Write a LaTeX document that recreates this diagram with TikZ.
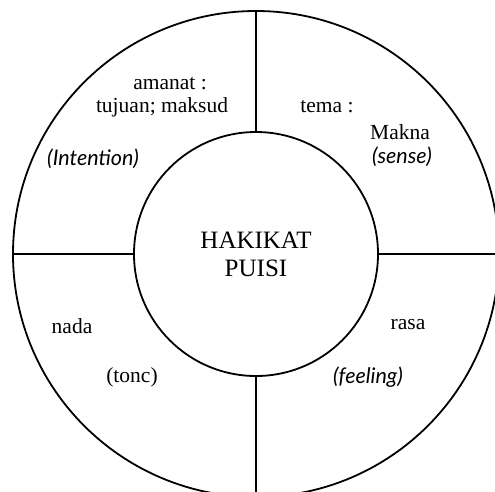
\documentclass[tikz,border=0pt]{standalone}
\usepackage{fontspec}
\setmainfont{Liberation Serif}
\newfontfamily\hsans{Lato}
\begin{document}
\begin{tikzpicture}[x=1pt,y=1pt,
  ring/.style={draw=black,line width=1.8pt,circle,inner sep=0pt},
  lbl/.style={inner sep=0pt,font=\fontsize{21.5}{24}\selectfont},
  eng/.style={inner sep=0pt,font=\hsans\itshape\fontsize{21.5}{24}\selectfont},
  sep/.style={line width=1.8pt}]
\useasboundingbox (0,0) rectangle (495,-491);
\clip (0,0) rectangle (495,-491);
\fill[white] (0,0) rectangle (495,-491);
\node[ring,minimum size=486pt] (outer) at (256,-254) {};
\node[ring,minimum size=244pt,align=center,font=\fontsize{25}{28}\selectfont] (inner) at (256,-254) {HAKIKAT\\PUISI};
\draw[sep] (inner.north) -- (outer.north);
\draw[sep] (inner.south) -- (outer.south);
\draw[sep] (inner.west) -- (outer.west);
\draw[sep] (inner.east) -- (outer.east);
\node[lbl] (amanat) at (170,-84) {amanat :};
\node[lbl] (tujuan) at (162,-107) {tujuan; maksud};
\node[eng] (intention) at (93,-159) {(Intention)};
\node[lbl] (tema) at (327,-107) {tema :};
\node[lbl] (makna) at (400,-132) {Makna};
\node[eng] (sense) at (402,-157) {(sense)};
\node[lbl] (nada) at (72,-326) {nada};
\node[lbl] (tonc) at (132,-377) {(tonc)};
\node[lbl] (rasa) at (408,-325) {rasa};
\node[eng] (feeling) at (368,-377) {(feeling)};
\end{tikzpicture}
\end{document}
